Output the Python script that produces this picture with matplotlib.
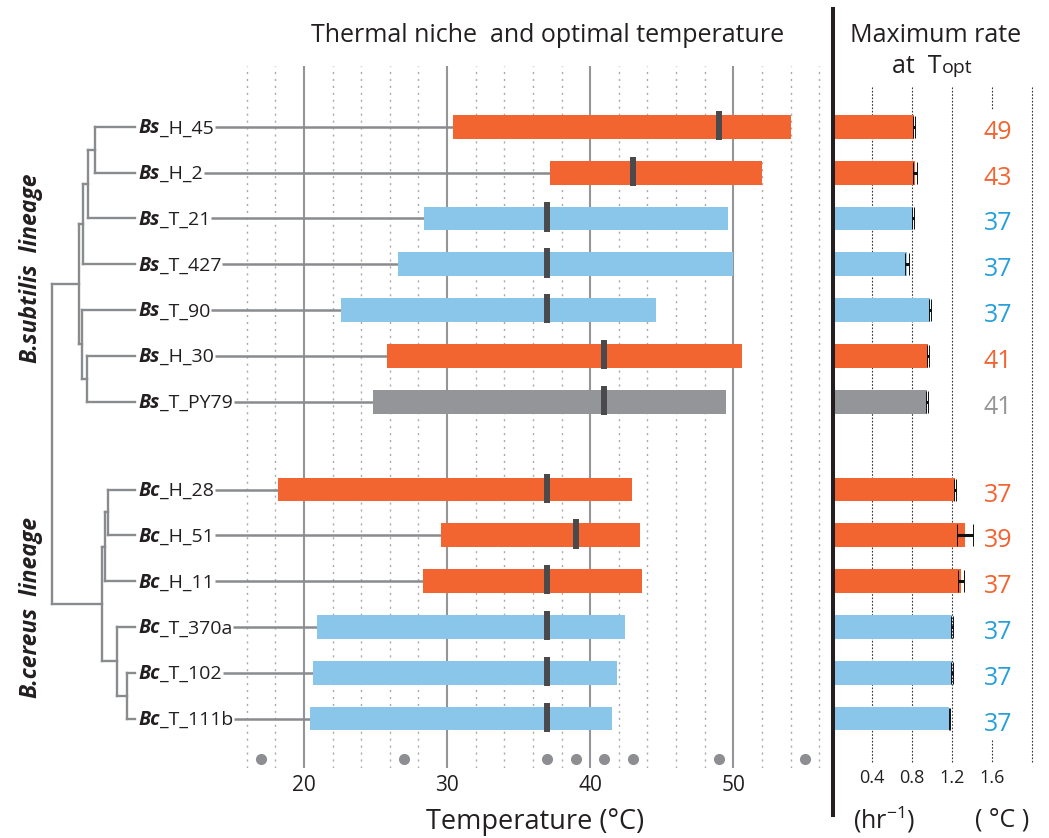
import matplotlib
matplotlib.use("Agg")
import matplotlib.pyplot as plt
from matplotlib.lines import Line2D
import numpy as np

plt.rcParams['font.family'] = ['Open Sans', 'DejaVu Sans']

# strains (species prefix in bold italic + isolate name)
prefix = ["Bs"] * 7 + ["Bc"] * 6
isolate = ["_H_45", "_H_2", "_T_21", "_T_427", "_T_90", "_H_30", "_T_PY79",
           "_H_28", "_H_51", "_H_11", "_T_370a", "_T_102", "_T_111b"]
group = ["H", "H", "T", "T", "T", "H", "lab",
         "H", "H", "H", "T", "T", "T"]

# thermal niche (deg C)
tmin = [30.4, 37.2, 28.4, 26.6, 22.6, 25.8, 24.8, 18.2, 29.6, 28.3, 20.9, 20.6, 20.4]
tmax = [54.0, 52.0, 49.6, 50.0, 44.6, 50.6, 49.5, 42.9, 43.5, 43.6, 42.4, 41.9, 41.5]
topt = [49, 43, 37, 37, 37, 41, 41, 37, 39, 37, 37, 37, 37]

# maximum growth rate at Topt (1/hr)
rate = [0.82, 0.83, 0.81, 0.75, 0.98, 0.96, 0.95, 1.23, 1.33, 1.29, 1.20, 1.20, 1.17]
rate_err = [0.01, 0.02, 0.01, 0.02, 0.01, 0.01, 0.01, 0.01, 0.08, 0.03, 0.01, 0.01, 0.005]

# temperatures that were measured
test_temps = [17, 27, 37, 39, 41, 43, 49, 55]

# dendrogram: (child a, child b, height); new nodes numbered from 13
links = [(0, 1, 4.0), (13, 2, 4.7), (14, 3, 5.2), (5, 6, 4.8), (4, 16, 5.3),
         (15, 17, 5.6), (7, 8, 2.7), (19, 9, 3.0), (11, 12, 0.8), (10, 21, 1.8),
         (20, 22, 3.3), (18, 23, 8.3)]

bar_col = {"H": "#f26430", "T": "#8ac6ea", "lab": "#939598"}
txt_col = {"H": "#f26430", "T": "#27a0da", "lab": "#939598"}
dark = "#231f20"
grid_grey = "#939598"
line_grey = "#898b8e"

W, H = 1049, 838
fig = plt.figure(figsize=(W / 100, H / 100), dpi=100)


def px_axes(x0, y0, x1, y1):
    return fig.add_axes([x0 / W, 1 - y1 / H, (x1 - x0) / W, (y1 - y0) / H])


ax_tree = px_axes(0, 66, 138, 768)
ax_t = px_axes(138, 66, 832, 768)
ax_r = px_axes(832, 66, 1049, 768)

ypos = np.r_[np.arange(7), np.arange(6) + 7.92]
for ax in (ax_tree, ax_t, ax_r):
    ax.set_ylim(14.0, -1.33)
    ax.set_yticks([])
    ax.patch.set_visible(False)
    for s in ax.spines.values():
        s.set_visible(False)
ax_tree.set_zorder(5)

# ---- dendrogram
ax_tree.set_xlim(13.5, -0.3)
ax_tree.set_xticks([])
node_y = list(ypos)
node_h = [0.0] * len(ypos)
for a, b, h in links:
    for c in (a, b):
        ax_tree.plot([node_h[c], h], [node_y[c], node_y[c]], color=line_grey,
                     lw=1.7, solid_capstyle='projecting')
    ax_tree.plot([h, h], [node_y[a], node_y[b]], color=line_grey, lw=1.7,
                 solid_capstyle='projecting')
    node_y.append((node_y[a] + node_y[b]) / 2)
    node_h.append(h)

# ---- temperature panel
ax_t.set_xlim(8.4, 56.9)
for t in range(16, 57, 2):
    if t % 10 == 0:
        ax_t.axvline(t, color=grid_grey, lw=1.5, zorder=0)
    else:
        ax_t.axvline(t, color="#a7a9ac", lw=1.0, dashes=(1.5, 3.5), zorder=0)

renderer = fig.canvas.get_renderer()
for i, y in enumerate(ypos):
    t1 = ax_tree.text(-0.35, y + 0.14, prefix[i], fontsize=14, fontweight='bold',
                      fontstyle='italic', color=dark, va='baseline', ha='left',
                      clip_on=False)
    bb = t1.get_window_extent(renderer)
    x1 = ax_tree.transData.inverted().transform((bb.x1, 0))[0]
    t2 = ax_tree.text(x1, y + 0.14, isolate[i], fontsize=14, color=dark,
                      va='baseline', ha='left', clip_on=False)
    bb2 = t2.get_window_extent(renderer)
    xs = ax_t.transData.inverted().transform((bb2.x1 + 1, 0))[0]
    ax_t.plot([xs, tmin[i]], [y, y], color=line_grey, lw=1.8, zorder=1,
              solid_capstyle='butt')

ax_t.barh(ypos, np.array(tmax) - np.array(tmin), left=tmin, height=0.52,
          color=[bar_col[g] for g in group], zorder=2)
for i, y in enumerate(ypos):
    ax_t.plot([topt[i], topt[i]], [y - 0.35, y + 0.29], color="#4a4a4c", lw=4.3,
              solid_capstyle='butt', zorder=3)

ax_t.plot(test_temps, [13.8] * len(test_temps), 'o', ms=7, color="#8d8e91",
          clip_on=False, zorder=3)
ax_t.set_xticks([20, 30, 40, 50])
ax_t.tick_params(axis='x', length=0, pad=5, labelsize=15, labelcolor=dark)

# ---- maximum rate panel
ax_r.set_xlim(0, 2.17)
for r in [0.4, 0.8, 1.2, 2.0]:
    ax_r.plot([r, r], [-0.87, 13.89], color="#333333", lw=0.8, dashes=(1.5, 1.5),
              zorder=0)
for y0, y1 in [(-0.87, -0.39), (13.38, 13.89)]:
    ax_r.plot([1.6, 1.6], [y0, y1], color="#333333", lw=0.8, dashes=(1.5, 1.5),
              zorder=0)

ax_r.barh(ypos, rate, height=0.52, color=[bar_col[g] for g in group], zorder=2)
ax_r.errorbar(rate, ypos, xerr=rate_err, fmt='none', ecolor="#111111",
              elinewidth=2.2, capsize=7.9, capthick=0.7, zorder=4)
for i, y in enumerate(ypos):
    ax_r.text(1.66, y + 0.12, str(topt[i]), ha='center', va='center',
              fontsize=18, color=txt_col[group[i]])
ax_r.set_xticks([0.4, 0.8, 1.2, 1.6])
ax_r.tick_params(axis='x', length=0, pad=1, labelsize=13, labelcolor=dark)

# separator
fig.add_artist(Line2D([833 / W, 833 / W], [1 - 9 / H, 1 - 815 / H], lw=2.9,
                      color=dark))

# ---- headers and footers
fig.text(548 / W, 1 - 35 / H, "Thermal niche  and optimal temperature",
         ha='center', va='center', fontsize=18, color=dark)
fig.text(936 / W, 1 - 35 / H, "Maximum rate", ha='center', va='center',
         fontsize=18, color=dark)
ta = fig.text(892 / W, 1 - 73 / H, "at  T", ha='left', va='baseline',
              fontsize=18, color=dark)
bb = ta.get_window_extent(renderer)
fig.text(bb.x1 / W, 1 - 73 / H, "opt", ha='left', va='baseline', fontsize=14,
         color=dark)
fig.text(535 / W, 1 - 822 / H, "Temperature (°C)", ha='center', va='center',
         fontsize=19.5, color=dark)
fig.text(884 / W, 1 - 820 / H, r"(hr$^{\mathregular{-1}}$)", ha='center',
         va='center', fontsize=18, color=dark)
fig.text(1002 / W, 1 - 820 / H, "( °C )", ha='center', va='center',
         fontsize=18, color=dark)

fig.text(31 / W, 1 - 268 / H, "B.subtilis  lineage", rotation=90, ha='center',
         va='center', fontsize=16.5, fontweight='bold', fontstyle='italic',
         color=dark)
fig.text(31 / W, 1 - 607 / H, "B.cereus  lineage", rotation=90, ha='center',
         va='center', fontsize=16.5, fontweight='bold', fontstyle='italic',
         color=dark)

fig.savefig("out.png", dpi=100)
